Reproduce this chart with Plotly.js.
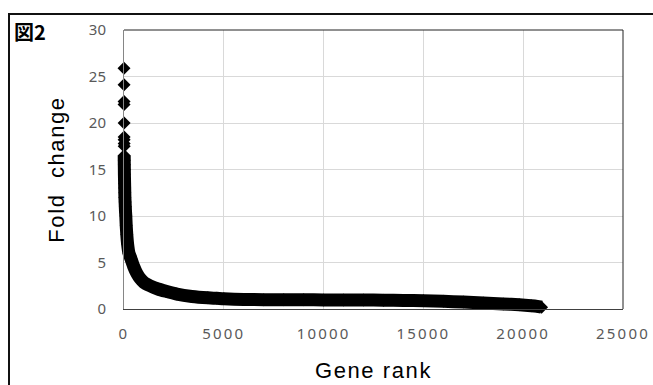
<!DOCTYPE html>
<html>
<head>
<meta charset="utf-8">
<script src="https://cdn.plot.ly/plotly-3.0.1.min.js"></script>
<style>
  html, body { margin: 0; padding: 0; background: #fff; }
  #wrap { position: relative; width: 653px; height: 385px; overflow: hidden; }
  #chart { position: absolute; left: 0; top: 0; width: 653px; height: 385px; }
  #frame { position: absolute; left: 8px; top: 13px; width: 700px; height: 400px;
           border-left: 2px solid #111; border-top: 2px solid #111; pointer-events: none; }
  .xtick text { letter-spacing: 2.2px; }
  .xtitle, .ytitle { letter-spacing: 1.6px; }
  .scatterlayer .js-line { clip-path: none !important; }
</style>
</head>
<body>
<div id="wrap">
  <div id="chart"></div>
  <div id="frame"></div>
</div>
<script>
// Gene rank (x) and fold change (y)
const geneRank = [1,2,3,4,5,6,7,8,9,10,12,15,18,20,25,30,35,40,45,55,65,75,90,110,140,180,250,350,480,650,800,1000,1300,1700,2100,2650,3400,4200,4650,5000,6000,7000,8000,9000,10000,11000,12000,13000,14000,15000,16000,17000,18000,19000,19800,20400,20700,20920];
const foldChange = [25.9,24.1,22.3,22.0,20.0,18.5,18.2,17.8,17.5,16.5,16.0,15.5,15.0,14.5,14.0,13.5,13.0,12.5,12.0,11.5,11.0,10.5,10.0,9.0,8.0,7.0,6.0,5.4,4.6,3.8,3.3,2.85,2.5,2.15,1.9,1.6,1.35,1.2,1.15,1.1,1.03,1.0,1.0,1.0,0.98,0.97,0.97,0.95,0.92,0.88,0.82,0.75,0.65,0.55,0.45,0.35,0.28,0.2];
const xTicks = [0,5000,10000,15000,20000,25000];
const yTicks = [0,5,10,15,20,25,30];
const denseStart = 9; // from here on the points merge into a solid band

const traces = [
  {
    x: geneRank.slice(denseStart), y: foldChange.slice(denseStart),
    type: 'scatter', mode: 'lines',
    line: { color: '#000', width: 13, shape: 'spline', smoothing: 0.6 },
    cliponaxis: false,
    hoverinfo: 'skip', showlegend: false
  },
  {
    x: geneRank, y: foldChange,
    type: 'scatter', mode: 'markers',
    marker: { symbol: 'diamond', size: 10, color: '#000', line: { width: 0 } },
    cliponaxis: false,
    showlegend: false
  }
];

const tickFont = { family: 'Noto Sans, DejaVu Sans, sans-serif', size: 15, color: '#595959' };
const titleFont = { family: 'Liberation Sans, Arial, sans-serif', size: 22, color: '#000' };

const layout = {
  width: 653, height: 385,
  margin: { l: 124, r: 30, t: 30, b: 76, pad: 0 },
  paper_bgcolor: '#fff', plot_bgcolor: '#fff',
  showlegend: false,
  xaxis: {
    range: [0, 25000], tickvals: xTicks, ticktext: xTicks.map(String),
    showgrid: true, gridcolor: '#d9d9d9', gridwidth: 1,
    zeroline: false, showline: true, linecolor: '#404040', linewidth: 1,
    ticks: '', ticklabelstandoff: 11, tickfont: tickFont,
    title: { text: 'Gene rank', font: titleFont, standoff: 20 },
    automargin: false
  },
  yaxis: {
    range: [0, 30], tickvals: yTicks, ticktext: yTicks.map(String),
    showgrid: true, gridcolor: '#d9d9d9', gridwidth: 1,
    zeroline: false, showline: true, linecolor: '#868686', linewidth: 1,
    ticks: '', ticklabelstandoff: 14, tickfont: tickFont,
    title: { text: 'Fold  change', font: titleFont, standoff: 18 },
    automargin: false
  },
  shapes: [
    { type: 'path', xref: 'paper', yref: 'paper', path: 'M0,1L1,1L1,0',
      line: { color: '#222', width: 1 }, layer: 'above' }
  ],
  annotations: [
    { text: '<b>図2</b>', xref: 'paper', yref: 'paper',
      x: (12 - 124) / 499, y: (309 - 31.5) / 279, xanchor: 'left', yanchor: 'middle',
      showarrow: false, font: { family: 'Noto Sans CJK JP, sans-serif', size: 20, color: '#000' } }
  ]
};

Plotly.newPlot('chart', traces, layout, { displayModeBar: false, staticPlot: true });
</script>
</body>
</html>
